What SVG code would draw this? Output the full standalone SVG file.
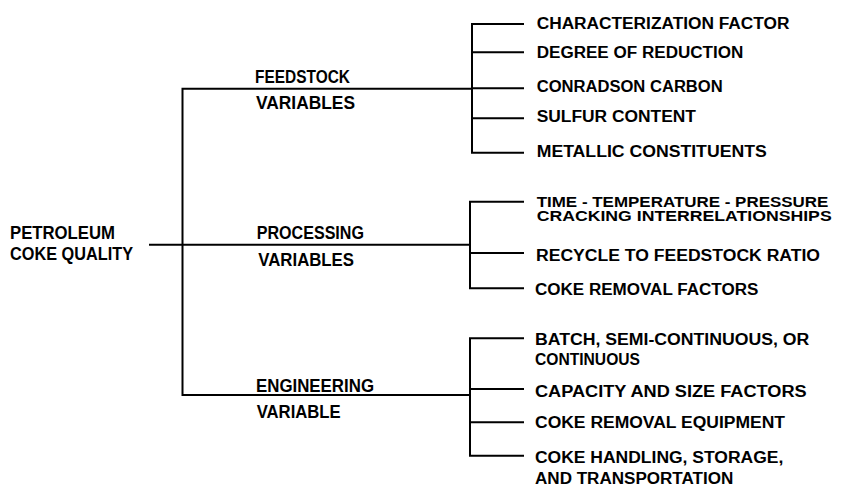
<svg xmlns="http://www.w3.org/2000/svg" width="841" height="486" viewBox="0 0 841 486">
<style>
  text { font-family: "Liberation Sans", Arial, sans-serif; font-weight: bold; fill: #000; }
  .big { font-size: 17.5px; }
  .leaf { font-size: 16px; }
  .tight { font-size: 14px; }
  .ln { stroke: #000; stroke-width: 2; fill: none; stroke-linecap: square; }
</style>
<rect width="841" height="486" fill="#fff"/>
<g id="connectors">
  <path class="ln" d="M150,244.7 H470"/>
  <path class="ln" d="M182.5,88.7 V395 M182.5,88.7 H472 M182.5,395 H470"/>
  <path class="ln" d="M472,24 V152.7 M472,24 H523 M472,52.3 H523 M472,88.3 H523 M472,118.3 H523 M472,152.7 H523"/>
  <path class="ln" d="M470,201.7 V288.3 M470,201.7 H523 M470,253 H523 M470,288.3 H523"/>
  <path class="ln" d="M470,338.3 V455.7 M470,338.3 H523 M470,389 H523 M470,422.3 H523 M470,455.7 H523"/>
</g>
<g id="root">
  <text class="big" x="10" y="239.3" textLength="105" lengthAdjust="spacingAndGlyphs">PETROLEUM</text>
  <text class="big" x="10" y="260" textLength="123" lengthAdjust="spacingAndGlyphs">COKE QUALITY</text>
</g>
<g id="feedstock">
  <text class="big" x="255" y="83.3" textLength="95" lengthAdjust="spacingAndGlyphs">FEEDSTOCK</text>
  <text class="big" x="256" y="109.3" textLength="99" lengthAdjust="spacingAndGlyphs">VARIABLES</text>
</g>
<g id="processing">
  <text class="big" x="256.7" y="239.3" textLength="107.3" lengthAdjust="spacingAndGlyphs">PROCESSING</text>
  <text class="big" x="258.3" y="266" textLength="95.7" lengthAdjust="spacingAndGlyphs">VARIABLES</text>
</g>
<g id="engineering">
  <text class="big" x="256" y="391.7" textLength="118" lengthAdjust="spacingAndGlyphs">ENGINEERING</text>
  <text class="big" x="256.7" y="418" textLength="84" lengthAdjust="spacingAndGlyphs">VARIABLE</text>
</g>
<g id="f1"><text class="leaf" x="536.7" y="29" textLength="252.7" lengthAdjust="spacingAndGlyphs">CHARACTERIZATION FACTOR</text></g>
<g id="f2"><text class="leaf" x="536.7" y="58" textLength="206.7" lengthAdjust="spacingAndGlyphs">DEGREE OF REDUCTION</text></g>
<g id="f3"><text class="leaf" x="536.7" y="91.7" textLength="186" lengthAdjust="spacingAndGlyphs">CONRADSON CARBON</text></g>
<g id="f4"><text class="leaf" x="536.7" y="121.7" textLength="159.3" lengthAdjust="spacingAndGlyphs">SULFUR CONTENT</text></g>
<g id="f5"><text class="leaf" x="536.7" y="156.7" textLength="230" lengthAdjust="spacingAndGlyphs">METALLIC CONSTITUENTS</text></g>
<g id="p1">
  <text class="tight" x="536.7" y="206.5" textLength="291.7" lengthAdjust="spacingAndGlyphs">TIME - TEMPERATURE - PRESSURE</text>
  <text class="tight" x="536.7" y="221" textLength="295" lengthAdjust="spacingAndGlyphs">CRACKING INTERRELATIONSHIPS</text>
</g>
<g id="p2"><text class="leaf" x="536" y="260.7" textLength="284" lengthAdjust="spacingAndGlyphs">RECYCLE TO FEEDSTOCK RATIO</text></g>
<g id="p3"><text class="leaf" x="535" y="295" textLength="223.3" lengthAdjust="spacingAndGlyphs">COKE REMOVAL FACTORS</text></g>
<g id="e1">
  <text class="leaf" x="535" y="345" textLength="274.3" lengthAdjust="spacingAndGlyphs">BATCH, SEMI-CONTINUOUS, OR</text>
  <text class="leaf" x="535" y="365" textLength="105" lengthAdjust="spacingAndGlyphs">CONTINUOUS</text>
</g>
<g id="e2"><text class="leaf" x="535" y="397.3" textLength="271.7" lengthAdjust="spacingAndGlyphs">CAPACITY AND SIZE FACTORS</text></g>
<g id="e3"><text class="leaf" x="535" y="428.3" textLength="250" lengthAdjust="spacingAndGlyphs">COKE REMOVAL EQUIPMENT</text></g>
<g id="e4">
  <text class="leaf" x="535" y="463" textLength="248.3" lengthAdjust="spacingAndGlyphs">COKE HANDLING, STORAGE,</text>
  <text class="leaf" x="535" y="484" textLength="198.3" lengthAdjust="spacingAndGlyphs">AND TRANSPORTATION</text>
</g>
</svg>
